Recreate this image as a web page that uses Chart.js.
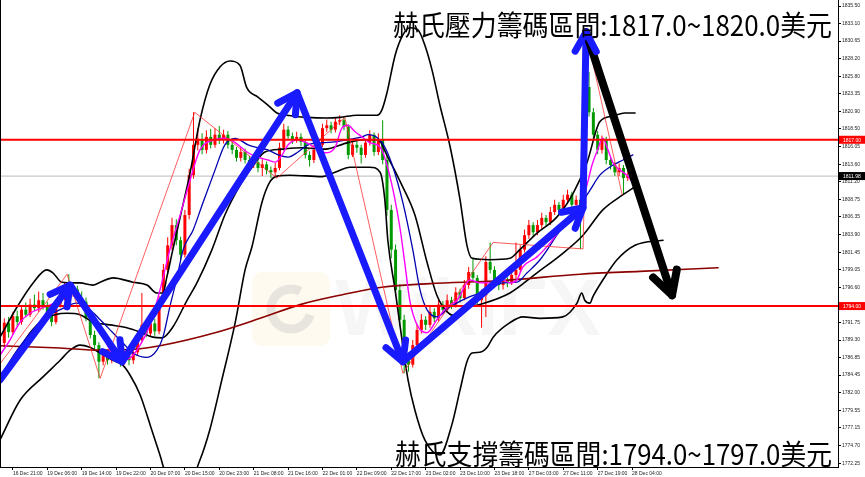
<!DOCTYPE html>
<html lang="zh-Hant">
  <head>
    <meta charset="utf-8" />
    <title>XAUUSD H1</title>
    <style>
      * { margin: 0; padding: 0; }
      body { background: #fff; width: 865px; height: 477px; overflow: hidden; }
      canvas { display: block; }
    </style>
  </head>
  <body>
    <canvas id="myChart" width="865" height="477"></canvas>

    <script src="https://cdn.jsdelivr.net/npm/chart.js"></script>

    <script>
      // hourly bars, index 0 = first candle on the left
      const opens = [
        1788.9, 1791.7, 1790.4, 1792.6, 1791.8, 1793.5, 1792.8, 1794.2, 1793.7, 1794.8,
        1794.0, 1792.9, 1791.8, 1794.2, 1795.1, 1796.5, 1795.9, 1796.3, 1795.0, 1794.6,
        1792.3, 1790.0, 1788.6, 1786.3, 1787.2, 1786.5, 1787.6, 1786.8, 1786.3, 1787.1,
        1786.5, 1787.6, 1789.3, 1791.4, 1790.2, 1791.6, 1790.5, 1794.8, 1799.0, 1802.4,
        1805.2, 1803.1, 1801.1, 1806.6, 1812.1, 1816.3, 1817.0, 1815.6, 1817.4, 1816.3,
        1817.7, 1817.0, 1817.7, 1816.3, 1815.6, 1814.5, 1815.3, 1814.2, 1813.5, 1813.9,
        1813.1, 1813.6, 1812.8, 1812.5, 1813.1, 1815.9, 1818.4, 1817.5, 1817.0, 1817.4,
        1816.7, 1814.9, 1814.2, 1815.6, 1816.3, 1818.6, 1819.0, 1818.4, 1819.5, 1819.7,
        1818.8, 1814.9, 1816.3, 1815.9, 1814.9, 1816.6, 1817.7, 1815.3, 1817.0, 1814.2,
        1807.3, 1801.8, 1796.2, 1792.1, 1786.5, 1785.9, 1788.6, 1790.7, 1792.1, 1791.4,
        1793.2, 1792.3, 1794.2, 1793.5, 1794.8, 1794.2, 1795.9, 1795.1, 1796.9, 1798.7,
        1797.9, 1794.8, 1795.5, 1800.1, 1799.0, 1797.3, 1796.9, 1797.6, 1797.3, 1798.3,
        1799.0, 1801.8, 1803.8, 1805.2, 1804.2, 1805.2, 1806.2, 1805.6, 1807.0, 1808.0,
        1807.3, 1808.7, 1809.4, 1808.0, 1808.7, 1808.0, 1824.3, 1820.8, 1817.7, 1815.6,
        1817.0, 1814.2, 1813.5, 1812.5, 1813.1, 1811.7,
      ];
      const highs = [
        1792.3, 1792.5, 1793.2, 1793.4, 1794.1, 1794.5, 1795.0, 1795.6, 1796.0, 1795.8,
        1794.6, 1793.4, 1794.6, 1795.9, 1797.2, 1798.4, 1797.0, 1796.8, 1796.0, 1795.2,
        1792.8, 1790.6, 1789.0, 1787.9, 1787.8, 1788.2, 1788.1, 1787.4, 1787.8, 1787.6,
        1788.3, 1790.0, 1795.8, 1792.0, 1792.6, 1792.2, 1795.4, 1799.8, 1803.5, 1806.2,
        1806.0, 1803.6, 1807.3, 1813.0, 1820.8, 1818.6, 1817.9, 1818.3, 1818.5, 1818.6,
        1818.9, 1818.4, 1818.2, 1816.9, 1816.0, 1816.0, 1815.8, 1814.8, 1814.6, 1814.4,
        1814.3, 1814.0, 1813.3, 1813.8, 1816.6, 1819.2, 1818.9, 1818.0, 1818.1, 1817.9,
        1817.1, 1815.4, 1816.2, 1817.0, 1819.2, 1819.8, 1819.5, 1820.1, 1820.4, 1820.2,
        1819.1, 1816.9, 1816.8, 1816.3, 1817.1, 1818.3, 1818.0, 1817.9, 1819.7, 1814.8,
        1808.0, 1802.5, 1797.0, 1792.8, 1787.6, 1789.3, 1791.5, 1792.9, 1792.6, 1793.9,
        1793.7, 1794.9, 1794.7, 1795.6, 1795.3, 1796.6, 1796.4, 1797.6, 1799.4, 1800.7,
        1798.3, 1796.3, 1800.9, 1802.8, 1799.5, 1797.8, 1798.3, 1798.0, 1799.0, 1802.8,
        1802.4, 1804.6, 1805.9, 1805.6, 1805.9, 1806.9, 1806.6, 1807.7, 1808.7, 1808.4,
        1809.4, 1810.1, 1809.8, 1809.3, 1809.1, 1830.8, 1826.4, 1821.4, 1818.2, 1817.6,
        1817.4, 1814.7, 1813.9, 1813.7, 1813.5, 1812.6,
      ];
      const lows = [
        1788.3, 1789.6, 1790.0, 1791.2, 1791.4, 1792.4, 1792.5, 1793.3, 1793.2, 1793.5,
        1792.4, 1791.2, 1791.5, 1793.8, 1794.8, 1795.5, 1795.3, 1794.6, 1793.9, 1791.9,
        1789.5, 1788.0, 1784.0, 1785.8, 1785.9, 1786.1, 1786.2, 1785.6, 1785.9, 1785.8,
        1786.0, 1787.2, 1789.0, 1789.7, 1789.8, 1789.9, 1790.1, 1794.3, 1798.5, 1801.8,
        1802.4, 1800.4, 1800.7, 1806.0, 1811.6, 1815.5, 1815.0, 1815.1, 1815.8, 1815.9,
        1816.4, 1816.5, 1815.8, 1815.0, 1814.0, 1814.0, 1813.7, 1813.0, 1813.1, 1812.5,
        1812.0, 1812.2, 1811.7, 1811.8, 1812.8, 1815.5, 1817.0, 1816.4, 1816.6, 1816.1,
        1814.4, 1813.3, 1813.8, 1815.1, 1816.0, 1818.1, 1817.9, 1818.0, 1819.0, 1818.3,
        1814.3, 1814.6, 1815.2, 1813.7, 1814.5, 1816.2, 1814.8, 1814.9, 1813.6, 1806.5,
        1800.6, 1795.4, 1791.2, 1784.7, 1784.9, 1785.5, 1788.2, 1790.2, 1790.7, 1791.0,
        1791.8, 1791.9, 1793.0, 1793.1, 1793.6, 1793.8, 1794.5, 1794.8, 1796.4, 1797.4,
        1794.2, 1791.0, 1792.5, 1798.5, 1796.6, 1796.2, 1796.3, 1796.6, 1796.9, 1797.8,
        1798.6, 1801.4, 1803.3, 1803.6, 1803.8, 1804.7, 1805.1, 1805.2, 1806.6, 1806.8,
        1806.9, 1808.2, 1807.5, 1807.6, 1801.9, 1807.4, 1820.2, 1817.2, 1815.0, 1815.1,
        1813.6, 1812.9, 1812.0, 1812.0, 1809.4, 1811.3,
      ];
      const closes = [
        1791.7, 1790.4, 1792.6, 1791.8, 1793.5, 1792.8, 1794.2, 1793.7, 1794.8, 1794.0,
        1792.9, 1791.8, 1794.2, 1795.1, 1796.5, 1795.9, 1796.3, 1795.0, 1794.6, 1792.3,
        1790.0, 1788.6, 1786.3, 1787.2, 1786.5, 1787.6, 1786.8, 1786.3, 1787.1, 1786.5,
        1787.6, 1789.3, 1791.4, 1790.2, 1791.6, 1790.5, 1794.8, 1799.0, 1802.4, 1805.2,
        1803.1, 1801.1, 1806.6, 1812.1, 1816.3, 1817.0, 1815.6, 1817.4, 1816.3, 1817.7,
        1817.0, 1817.7, 1816.3, 1815.6, 1814.5, 1815.3, 1814.2, 1813.5, 1813.9, 1813.1,
        1813.6, 1812.8, 1812.5, 1813.1, 1815.9, 1818.4, 1817.5, 1817.0, 1817.4, 1816.7,
        1814.9, 1814.2, 1815.6, 1816.3, 1818.6, 1819.0, 1818.4, 1819.5, 1819.7, 1818.8,
        1814.9, 1816.3, 1815.9, 1814.9, 1816.6, 1817.7, 1815.3, 1817.0, 1814.2, 1807.3,
        1801.8, 1796.2, 1792.1, 1786.5, 1785.9, 1788.6, 1790.7, 1792.1, 1791.4, 1793.2,
        1792.3, 1794.2, 1793.5, 1794.8, 1794.2, 1795.9, 1795.1, 1796.9, 1798.7, 1797.9,
        1794.8, 1795.5, 1800.1, 1799.0, 1797.3, 1796.9, 1797.6, 1797.3, 1798.3, 1799.0,
        1801.8, 1803.8, 1805.2, 1804.2, 1805.2, 1806.2, 1805.6, 1807.0, 1808.0, 1807.3,
        1808.7, 1809.4, 1808.0, 1808.7, 1808.0, 1824.3, 1820.8, 1817.7, 1815.6, 1817.0,
        1814.2, 1813.5, 1812.5, 1813.1, 1811.7, 1811.98,
      ];

      // indicator lines as [bar, price]
      const bandUpper = [
        [-1, 1789.7], [3, 1793.9], [6.7, 1797.2], [9.9, 1799.0], [11.3, 1798.6], [13.4, 1797.3],
        [17.6, 1797.2], [20.6, 1796.9], [22.3, 1797.3], [25.3, 1797.9], [29.9, 1797.3], [33.2, 1796.9],
        [35.5, 1795.8], [36.9, 1795.8], [37.8, 1798.0], [39.2, 1801.8], [40.9, 1806.3], [43.2, 1812.4],
        [45.5, 1819.7], [47.8, 1824.6], [50.2, 1827.1], [52.5, 1827.9], [54.8, 1827.3], [56.4, 1824.2],
        [59, 1822.9], [61.3, 1821.8], [63.4, 1820.7], [65.7, 1820.4], [70.4, 1820.1], [75, 1820.0],
        [78.1, 1820.1], [82, 1820.4], [86.7, 1820.4], [87.8, 1821.1], [89, 1823.5], [90.9, 1828.7],
        [92.7, 1831.5], [94.3, 1832.5], [96.2, 1832.2], [97.8, 1830.1], [99.5, 1826.6], [101.3, 1821.8],
        [103.7, 1816.0], [106, 1808.7], [107.6, 1802.4], [108.8, 1800.6], [113, 1800.4], [117.6, 1800.6],
        [119.9, 1801.8], [123.9, 1804.1], [128.5, 1806.3], [132.3, 1809.6], [135.5, 1813.8], [138.5, 1819.5],
        [141.6, 1820.3], [144.3, 1820.7], [146.7, 1820.7],
      ];
      const bandMiddle = [
        [-1, 1783.8], [2, 1786.5], [6, 1790.3], [9, 1792.1], [11.8, 1792.8], [14.6, 1793.0],
        [17.6, 1792.8], [20.6, 1791.8], [24.6, 1791.4], [28.5, 1791.0], [31.6, 1790.4], [34.6, 1789.7],
        [36.7, 1789.6], [39.2, 1791.1], [42.5, 1794.8], [44.8, 1797.2], [48.3, 1801.8], [51.3, 1806.6],
        [54.8, 1810.7], [58.3, 1813.8], [60.6, 1815.3], [64.6, 1815.7], [69.2, 1815.9], [74.6, 1815.7],
        [79.9, 1816.6], [83.9, 1817.0], [86.9, 1817.0], [89.2, 1814.6], [92.5, 1810.7], [95.5, 1806.6],
        [98.3, 1800.1], [100.6, 1795.5], [103, 1793.2], [105.3, 1792.6], [108.3, 1793.9], [110.6, 1794.2],
        [117.6, 1795.8], [123.9, 1798.6], [129.9, 1801.3], [134.6, 1803.8], [139.2, 1807.3], [143.9, 1809.4],
        [146.7, 1810.5],
      ];
      const bandLower = [
        [-1, 1775.5], [3.7, 1781.0], [9, 1784.2], [13, 1786.5], [15.3, 1787.9], [17.6, 1788.6],
        [19.9, 1788.3], [22.3, 1787.5], [25.3, 1786.5], [27.6, 1785.8], [29.2, 1784.5], [31.6, 1781.7],
        [33.9, 1777.6], [36.2, 1773.4], [37.8, 1770.6], [43.2, 1769.9], [45.5, 1772.7], [47.8, 1776.9],
        [50.6, 1783.8], [53.7, 1791.7], [56, 1799.0], [57.6, 1802.2], [59.9, 1808.3], [61.8, 1811.2],
        [63.7, 1812.0], [66.4, 1812.1], [73.9, 1811.9], [76.9, 1812.5], [80.4, 1813.2], [85, 1813.2],
        [87.4, 1812.5], [88.5, 1808.7], [89.2, 1803.1], [90.9, 1796.2], [92.5, 1789.3], [93.9, 1783.8],
        [95.5, 1779.6], [97.8, 1775.5], [101.3, 1773.4], [104.1, 1777.6], [106, 1782.4], [107.6, 1786.3],
        [108.8, 1787.5], [110.6, 1787.6], [112.3, 1788.3], [113.7, 1789.7], [117.6, 1791.7], [120.6, 1792.5],
        [124.6, 1792.3], [129.9, 1792.5], [133.2, 1794.4], [134.3, 1795.8], [135, 1794.8], [136.2, 1794.4],
        [136.9, 1795.3], [139.2, 1797.6], [142.5, 1800.4], [146.7, 1802.4], [153.2, 1803.1],
      ];
      const maFast = [
        [-1, 1787.2], [1.3, 1789.3], [3.7, 1791.8], [6, 1793.0], [9.5, 1793.9], [13, 1794.8],
        [15.3, 1795.9], [17.6, 1795.3], [19.9, 1793.5], [22.3, 1790.7], [24.6, 1787.9], [26.9, 1786.5],
        [29.2, 1786.8], [31.6, 1788.6], [33.9, 1791.4], [36.2, 1796.2], [38.5, 1801.8], [40.9, 1806.6],
        [43.2, 1811.4], [45.5, 1815.6], [49, 1817.0], [51.3, 1817.2], [53.7, 1816.6], [56.7, 1815.2],
        [59, 1814.6], [61.3, 1814.2], [63, 1813.9], [64.6, 1814.9], [66, 1816.3], [68.3, 1817.0],
        [69.9, 1816.7], [72.3, 1815.9], [74.6, 1815.2], [76.9, 1815.9], [78.5, 1818.6], [79.9, 1819.0],
        [81.6, 1818.1], [83.2, 1817.4], [85, 1816.6], [87.4, 1816.0], [89.7, 1811.9], [92, 1804.9],
        [93.2, 1799.7], [94.3, 1794.8], [96, 1791.4], [98.3, 1790.3], [100.6, 1792.1], [103, 1793.9],
        [105.3, 1794.8], [108.3, 1797.6], [110.6, 1797.2], [113, 1797.2], [116, 1797.6], [117.6, 1797.2],
        [119.2, 1797.6], [120.6, 1799.4], [123.9, 1800.8], [126.9, 1802.7], [129.2, 1804.5], [131.6, 1806.3],
        [133.9, 1807.7], [135.5, 1810.7], [136.7, 1813.5], [137.8, 1815.3], [139.2, 1817.2], [140.4, 1815.6],
        [141.6, 1813.8], [143.2, 1812.8], [144.8, 1812.1], [146, 1811.2],
      ];
      const maSlow = [
        [-1, 1784.2], [3, 1787.9], [6.7, 1790.7], [9.9, 1792.5], [13, 1793.5], [16.9, 1794.4],
        [19.9, 1793.5], [22.3, 1792.1], [24.6, 1790.7], [27.6, 1788.9], [29.9, 1787.5], [33.2, 1786.9],
        [35.5, 1787.9], [36.9, 1789.7], [38.5, 1793.9], [40.2, 1798.0], [41.6, 1801.8], [43.9, 1804.5],
        [46.2, 1808.3], [49, 1812.8], [51.3, 1816.3], [53.7, 1817.2], [56.7, 1816.3], [59, 1815.9],
        [61.3, 1815.6], [63.7, 1814.9], [66, 1814.6], [68.3, 1815.3], [70.6, 1816.3], [73.9, 1816.6],
        [76.9, 1816.7], [79.9, 1817.0], [83.2, 1817.4], [84.6, 1817.7], [86.9, 1817.2], [88.5, 1816.0],
        [90.4, 1813.2], [92.7, 1808.3], [95, 1801.8], [96.7, 1796.2], [98.3, 1793.5], [100.6, 1792.5],
        [103.7, 1793.9], [108.3, 1795.3], [111.3, 1795.9], [116, 1797.2], [119.2, 1797.3], [121.6, 1798.6],
        [124.6, 1800.4], [128.5, 1803.8], [131.6, 1806.6], [133.9, 1808.0], [136.2, 1810.0], [138.5, 1812.1],
        [141.6, 1813.5], [143.9, 1814.2], [146.2, 1814.9],
      ];
      const maLong = [
        [-1, 1788.5], [13, 1788.2], [22.3, 1787.9], [31.6, 1788.1], [36.2, 1788.5], [49, 1790.3],
        [59.5, 1792.3], [68.8, 1794.2], [78.1, 1795.5], [87.8, 1796.6], [99, 1797.1], [115.3, 1797.5],
        [133.9, 1798.4], [147.8, 1798.8], [166, 1799.3],
      ];
      const zigzag = [
        [-1, 1786.0], [14.6, 1798.4], [22.3, 1784.0], [44.3, 1820.8], [63.4, 1811.7], [79.2, 1820.1],
        [92.7, 1784.7], [113.7, 1802.8], [134.6, 1801.9], [135.7, 1830.8], [143.7, 1809.4],
      ];

      // hand drawn arrows
      const blueArrowPath = [
        [-1, 1783.8], [15.3, 1796.9], [27.4, 1786.3], [68.1, 1823.5], [92.7, 1786.3], [134.6, 1807.6], [135.3, 1831.9],
      ];
      const blackArrowPath = [[135.3, 1831.9], [155.3, 1795.5]];

      // horizontal levels
      const resistanceLevel = 1817.0;
      const supportLevel = 1794.0;
      const lastPrice = 1811.98;

      // axis ticks
      const priceTicks = [
        1835.5, 1833.1, 1830.65, 1828.2, 1825.8, 1823.35, 1820.9, 1818.5, 1816.05, 1813.6, 1811.2, 1808.75,
        1806.35, 1803.9, 1801.45, 1799.05, 1796.6, 1791.75, 1789.3, 1786.85, 1784.45, 1782.0, 1779.55,
        1777.15, 1774.7, 1772.25,
      ];
      const timeTickBars = [2, 10, 18, 26, 34, 42, 50, 58, 66, 74, 82, 90, 98, 106, 114, 122, 130, 138, 146];
      const timeLabels = [
        "16 Dec 21:00", "19 Dec 06:00", "19 Dec 14:00", "19 Dec 22:00", "20 Dec 07:00", "20 Dec 15:00",
        "20 Dec 23:00", "21 Dec 08:00", "21 Dec 16:00", "22 Dec 01:00", "22 Dec 09:00", "22 Dec 17:00",
        "23 Dec 02:00", "23 Dec 10:00", "23 Dec 18:00", "27 Dec 03:00", "27 Dec 11:00", "27 Dec 19:00",
        "28 Dec 04:00",
      ];
      const headlines = ["赫氏壓力籌碼區間:1817.0~1820.0美元", "赫氏支撐籌碼區間:1794.0~1797.0美元"];

      const UP = "#ff0000";
      const DOWN = "#009a00";
      const toXY = (arr) => arr.map(([x, y]) => ({ x, y }));
      const candleColors = closes.map((c, i) => (c >= opens[i] ? UP : DOWN));
      const bars = closes.map((c, i) => i);

      const lineDefaults = { type: "line", pointRadius: 0, borderCapStyle: "round", borderJoinStyle: "round" };
      const levelLine = (v, color, width, order) => ({
        ...lineDefaults,
        data: [{ x: -1, y: v }, { x: 194, y: v }],
        borderColor: color,
        borderWidth: width,
        order,
      });

      // faint watermark behind everything
      const watermark = {
        id: "watermark",
        beforeDatasetsDraw(chart) {
          const { ctx } = chart;
          ctx.save();
          ctx.fillStyle = "rgba(250, 232, 180, 0.22)";
          ctx.beginPath();
          ctx.roundRect(252, 272, 78, 74, 10);
          ctx.fill();
          ctx.strokeStyle = "rgba(120, 120, 135, 0.16)";
          ctx.lineWidth = 9;
          ctx.beginPath();
          ctx.arc(291, 309, 20, 0.3, 5.2);
          ctx.stroke();
          ctx.fillStyle = "rgba(170, 170, 170, 0.11)";
          ctx.font = "bold 80px 'Liberation Sans'";
          ctx.fillText("WikiFX", 335, 335);
          ctx.restore();
        },
      };

      // arrow heads on every vertex of the arrow datasets
      const arrowHeads = {
        id: "arrowHeads",
        afterDatasetsDraw(chart) {
          const { ctx } = chart;
          chart.data.datasets.forEach((ds, i) => {
            if (!ds.arrow) return;
            const pts = chart.getDatasetMeta(i).data;
            ctx.save();
            ctx.strokeStyle = ds.borderColor;
            ctx.lineWidth = ds.borderWidth;
            ctx.lineCap = "round";
            ctx.lineJoin = "round";
            for (let k = 1; k < pts.length; k++) {
              const a = pts[k - 1];
              const b = pts[k];
              const ang = Math.atan2(b.y - a.y, b.x - a.x);
              const len = ds.headLength;
              const spread = 0.5;
              ctx.beginPath();
              ctx.moveTo(b.x - len * Math.cos(ang - spread), b.y - len * Math.sin(ang - spread));
              ctx.lineTo(b.x, b.y);
              ctx.lineTo(b.x - len * Math.cos(ang + spread), b.y - len * Math.sin(ang + spread));
              ctx.stroke();
            }
            ctx.restore();
          });
        },
      };

      // price tags on the axis, headline texts, frame
      const overlay = {
        id: "overlay",
        afterDraw(chart) {
          const { ctx, chartArea, scales: { y } } = chart;
          ctx.save();
          ctx.strokeStyle = "#000";
          ctx.lineWidth = 1;
          ctx.beginPath();
          ctx.moveTo(0.5, 0);
          ctx.lineTo(0.5, chartArea.bottom);
          ctx.stroke();

          const tags = [
            [resistanceLevel, "#ff0000"],
            [lastPrice, "#000000"],
            [supportLevel, "#ff0000"],
          ];
          ctx.font = "5px 'Liberation Sans'";
          ctx.textBaseline = "middle";
          tags.forEach(([v, bg]) => {
            const py = y.getPixelForValue(v);
            ctx.fillStyle = bg;
            ctx.fillRect(chartArea.right + 1, py - 4, 26, 8);
            ctx.fillStyle = "#fff";
            ctx.fillText(v.toFixed(2), chartArea.right + 5, py + 0.5);
          });

          ctx.fillStyle = "#000";
          ctx.textBaseline = "alphabetic";
          ctx.font = "28px 'Noto Sans CJK TC'";
          const spots = [
            [393, 36, 439],
            [395, 465, 437],
          ];
          headlines.forEach((t, i) => {
            const [tx, ty, tw] = spots[i];
            const w = ctx.measureText(t).width;
            ctx.save();
            ctx.translate(tx, ty);
            ctx.scale(tw / w, 1);
            ctx.fillText(t, 0, 0);
            ctx.restore();
          });
          ctx.restore();
        },
      };

      const data = {
        datasets: [
          // arrows on top
          { ...lineDefaults, data: toXY(blackArrowPath), borderColor: "#000", borderWidth: 8, headLength: 26, arrow: true, order: 0, clip: false },
          { ...lineDefaults, data: toXY(blueArrowPath), borderColor: "#1a1aff", borderWidth: 7, headLength: 22, arrow: true, order: 0, clip: false },
          levelLine(resistanceLevel, "#ff0000", 2, 1),
          levelLine(supportLevel, "#ff0000", 2, 1),
          { ...lineDefaults, data: toXY(zigzag), borderColor: "rgba(255, 40, 40, 0.75)", borderWidth: 1, order: 2 },
          { ...lineDefaults, data: toXY(maFast), borderColor: "#ff00ff", borderWidth: 1.4, cubicInterpolationMode: "monotone", order: 3 },
          { ...lineDefaults, data: toXY(maSlow), borderColor: "#0000b0", borderWidth: 1.3, cubicInterpolationMode: "monotone", order: 3 },
          { ...lineDefaults, data: toXY(maLong), borderColor: "#8b0000", borderWidth: 1.6, cubicInterpolationMode: "monotone", order: 3 },
          { ...lineDefaults, data: toXY(bandUpper), borderColor: "#000", borderWidth: 1.6, cubicInterpolationMode: "monotone", order: 4 },
          { ...lineDefaults, data: toXY(bandMiddle), borderColor: "#000", borderWidth: 1.6, cubicInterpolationMode: "monotone", order: 4 },
          { ...lineDefaults, data: toXY(bandLower), borderColor: "#000", borderWidth: 1.6, cubicInterpolationMode: "monotone", order: 4 },
          // candle bodies and wicks
          {
            type: "bar",
            data: bars.map((i) => ({ x: i, y: [opens[i], closes[i]] })),
            backgroundColor: candleColors,
            grouped: false,
            maxBarThickness: 3,
            minBarLength: 1,
            order: 5,
          },
          {
            type: "bar",
            data: bars.map((i) => ({ x: i, y: [lows[i], highs[i]] })),
            backgroundColor: candleColors,
            grouped: false,
            maxBarThickness: 1,
            order: 6,
          },
          levelLine(lastPrice, "#c8c8c8", 1.2, 7),
        ],
      };

      const config = {
        type: "bar",
        data,
        options: {
          responsive: false,
          animation: false,
          layout: { padding: 0 },
          plugins: { legend: { display: false }, tooltip: { enabled: false } },
          scales: {
            x: {
              type: "linear",
              min: -1,
              max: 193.9,
              offset: false,
              afterBuildTicks: (s) => { s.ticks = timeTickBars.map((v) => ({ value: v })); },
              afterFit: (s) => { s.height = 10; s.paddingLeft = 0; s.paddingRight = 0; },
              ticks: {
                autoSkip: false,
                maxRotation: 0,
                align: "start",
                padding: 1,
                color: "#222",
                font: { size: 5, family: "'Liberation Sans'" },
                callback: (v, i) => timeLabels[i],
              },
              grid: { drawOnChartArea: false, offset: false, tickLength: 3, color: "#000" },
              border: { color: "#000" },
            },
            y: {
              position: "right",
              min: 1771.74,
              max: 1836.33,
              afterBuildTicks: (s) => { s.ticks = priceTicks.map((v) => ({ value: v })); },
              afterFit: (s) => { s.width = 27; s.paddingTop = 0; s.paddingBottom = 0; },
              ticks: {
                autoSkip: false,
                padding: 1,
                color: "#222",
                font: { size: 5, family: "'Liberation Sans'" },
                callback: (v) => v.toFixed(2),
              },
              grid: { drawOnChartArea: false, tickLength: 3, color: "#000" },
              border: { color: "#000" },
            },
          },
        },
        plugins: [watermark, arrowHeads, overlay],
      };

      const myChart = new Chart(document.getElementById("myChart"), config);
    </script>
  </body>
</html>
